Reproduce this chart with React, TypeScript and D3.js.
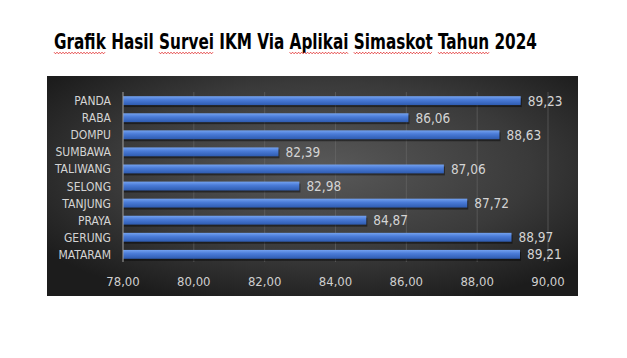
import React, { useEffect, useRef } from "react";
import * as d3 from "d3";

const titleText = "Grafik Hasil Survei IKM Via Aplikai Simaskot Tahun 2024";
// words the spell checker marked in the original
const underlined = ["Grafik", "Survei", "Aplikai", "Simaskot", "Tahun"];

const categories = [
  "PANDA",
  "RABA",
  "DOMPU",
  "SUMBAWA",
  "TALIWANG",
  "SELONG",
  "TANJUNG",
  "PRAYA",
  "GERUNG",
  "MATARAM",
];
const values = [89.23, 86.06, 88.63, 82.39, 87.06, 82.98, 87.72, 84.87, 88.97, 89.21];
const xTicks = [78, 80, 82, 84, 86, 88, 90];

const W = 627;
const H = 358;
const font = "'Liberation Sans Narrow', 'DejaVu Sans Condensed', 'Roboto', sans-serif";

const fmt = (v: number) => d3.format(".2f")(v).replace(".", ",");

export default function App() {
  const titleRef = useRef<SVGTextElement>(null);
  const titleG = useRef<SVGGElement>(null);
  const waveRef = useRef<SVGGElement>(null);

  const xScale = d3.scaleLinear().domain([78, 90]).range([123, 548]);
  const yScale = d3
    .scaleBand()
    .domain(categories)
    .range([88, 267])
    .padding(0.48);
  const gridTop = 92;
  const gridBottom = 262;

  const titleX = 295.5;
  const titleW = 483;

  // squeeze the title to the original width, then draw the red spell-check waves
  useEffect(() => {
    const t = titleRef.current;
    const g = waveRef.current;
    if (!t || !g || !titleG.current) return;
    const natural = t.getComputedTextLength();
    const sx = Math.min(1, titleW / natural);
    d3.select(titleG.current).attr("transform", `translate(${titleX},49) scale(${sx},1)`);

    const sel = d3.select(g);
    sel.selectAll("*").remove();
    let idx = 0;
    titleText.split(" ").forEach((word) => {
      const start = titleText.indexOf(word, idx);
      idx = start + word.length;
      if (!underlined.includes(word)) return;
      const x0 = titleX + sx * t.getStartPositionOfChar(start).x;
      const x1 = titleX + sx * t.getEndPositionOfChar(start + word.length - 1).x;
      const y = 53;
      const pts: [number, number][] = [];
      for (let x = x0, k = 0; x <= x1; x += 1.5, k++) {
        pts.push([x, k % 2 === 0 ? y - 0.8 : y + 0.8]);
      }
      sel
        .append("path")
        .attr("d", d3.line()(pts))
        .attr("fill", "none")
        .attr("stroke", "#e02020")
        .attr("stroke-width", 0.8);
    });
  }, []);

  return (
    <svg
      width={W}
      height={H}
      style={{ position: "absolute", left: 0, top: 0, background: "#fff" }}
    >
      <defs>
        <radialGradient id="panelBg" cx="52%" cy="42%" r="65%">
          <stop offset="0%" stopColor="#595959" />
          <stop offset="60%" stopColor="#3a3a3a" />
          <stop offset="100%" stopColor="#1c1c1c" />
        </radialGradient>
        <linearGradient id="barFill" x1="0" y1="0" x2="0" y2="1">
          <stop offset="0%" stopColor="#74a2ef" />
          <stop offset="40%" stopColor="#4b7cd8" />
          <stop offset="100%" stopColor="#2e5bb0" />
        </linearGradient>
      </defs>

      <g ref={titleG} transform={`translate(${titleX},49) scale(0.82,1)`}>
        <text
          ref={titleRef}
          x={0}
          y={0}
          fontFamily={font}
          fontWeight="bold"
          fontSize={21}
          textAnchor="middle"
          fill="#000"
        >
          {titleText}
        </text>
      </g>
      <g ref={waveRef} />

      <rect x={47} y={76} width={531} height={220} fill="url(#panelBg)" />

      {/* gridlines */}
      {xTicks.slice(1).map((t) => (
        <line
          key={"g" + t}
          x1={xScale(t)}
          x2={xScale(t)}
          y1={gridTop}
          y2={gridBottom}
          stroke="#6a6a6a"
          strokeWidth={0.8}
          opacity={0.75}
        />
      ))}

      {/* bars */}
      {categories.map((c, i) => {
        const y = yScale(c) as number;
        const bw = yScale.bandwidth();
        const x0 = xScale(78);
        const x1 = xScale(values[i]);
        return (
          <g key={c}>
            <rect x={x0 + 1} y={y + 2} width={x1 - x0} height={bw} fill="#000" opacity={0.45} />
            <rect x={x0} y={y} width={x1 - x0} height={bw} fill="url(#barFill)" />
            <text
              x={x1 + 7}
              y={y + bw / 2 + 5}
              fontFamily={font}
              fontSize={13.5}
              fill="#d4d4d4"
            >
              {fmt(values[i])}
            </text>
            <text
              x={111}
              y={y + bw / 2 + 4.5}
              fontFamily={font}
              fontSize={12}
              textAnchor="end"
              fill="#d4d4d4"
            >
              {c}
            </text>
          </g>
        );
      })}

      {/* category axis line */}
      <line
        x1={xScale(78)}
        x2={xScale(78)}
        y1={gridTop}
        y2={gridBottom}
        stroke="#a0a0a0"
        strokeWidth={1}
      />

      {/* x tick labels */}
      {xTicks.map((t) => (
        <text
          key={"t" + t}
          x={xScale(t)}
          y={286}
          fontFamily={font}
          fontSize={13}
          textAnchor="middle"
          fill="#cfcfcf"
        >
          {fmt(t)}
        </text>
      ))}
    </svg>
  );
}
